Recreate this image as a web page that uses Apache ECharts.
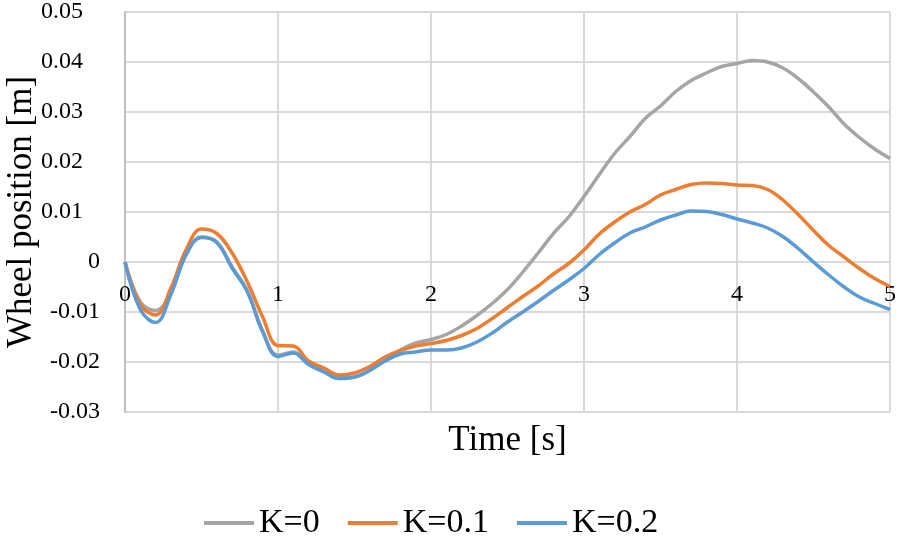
<!DOCTYPE html>
<html>
<head>
<meta charset="utf-8">
<script src="https://cdn.jsdelivr.net/npm/echarts@6/dist/echarts.min.js"></script>
<style>html,body{margin:0;padding:0;background:#fff}#c{width:898px;height:545px}</style>
</head>
<body>
<div id="c"></div>
<script>
const times = [0,0.1,0.2,0.3,0.4,0.5,0.6,0.7,0.8,0.9,1.0,1.1,1.2,1.3,1.4,1.5,1.6,1.7,1.8,1.9,2.0,2.1,2.2,2.3,2.4,2.5,2.6,2.7,2.8,2.9,3.0,3.1,3.2,3.3,3.4,3.5,3.6,3.7,3.8,3.9,4.0,4.1,4.2,4.3,4.4,4.5,4.6,4.7,4.8,4.9,5.0];
const k0 = [0,-0.0080,-0.0097,-0.0060,0.0015,0.0050,0.0040,-0.0010,-0.0058,-0.0138,-0.0186,-0.0180,-0.0203,-0.0218,-0.0231,-0.0230,-0.0216,-0.0196,-0.0176,-0.0162,-0.0155,-0.0145,-0.0128,-0.0107,-0.0083,-0.0055,-0.0020,0.0018,0.0057,0.0090,0.0131,0.0175,0.0217,0.0251,0.0287,0.0312,0.0341,0.0363,0.0378,0.0391,0.0397,0.0403,0.0400,0.0388,0.0367,0.0340,0.0310,0.0276,0.0249,0.0226,0.0207];
const k01 = [0,-0.0085,-0.0106,-0.0052,0.0025,0.0066,0.0057,0.0018,-0.0040,-0.0110,-0.0167,-0.0168,-0.0198,-0.0212,-0.0226,-0.0222,-0.0209,-0.0190,-0.0177,-0.0168,-0.0163,-0.0157,-0.0147,-0.0133,-0.0113,-0.0091,-0.0069,-0.0048,-0.0024,-0.0003,0.0024,0.0056,0.0080,0.0100,0.0115,0.0134,0.0145,0.0155,0.0158,0.0157,0.0154,0.0153,0.0145,0.0124,0.0095,0.0063,0.0033,0.0010,-0.0013,-0.0033,-0.0049];
const k02 = [0,-0.0095,-0.0121,-0.0065,0.0015,0.0049,0.0039,-0.0012,-0.0060,-0.0140,-0.0189,-0.0182,-0.0205,-0.0220,-0.0233,-0.0230,-0.0217,-0.0198,-0.0184,-0.0180,-0.0176,-0.0176,-0.0172,-0.0160,-0.0142,-0.0120,-0.0100,-0.0079,-0.0057,-0.0036,-0.0013,0.0015,0.0038,0.0058,0.0070,0.0084,0.0094,0.0102,0.0101,0.0095,0.0086,0.0078,0.0068,0.0051,0.0027,0.0000,-0.0026,-0.0050,-0.0070,-0.0083,-0.0095];
const seriesNames = ['K=0','K=0.1','K=0.2'];
const colors = ['#a5a5a5','#ed7d31','#5b9bd5'];
const font = '"Liberation Serif","Times New Roman",serif';

const pairs = arr => times.map((t,i)=>[t,arr[i]]);
const chart = echarts.init(document.getElementById('c'), null, {renderer:'canvas'});
chart.setOption({
  animation:false,
  color: colors,
  grid:{left:125,right:8,top:12,bottom:133,containLabel:false,outerBoundsMode:'none'},
  legend:{
    left:199, top:501, itemWidth:50, itemHeight:4, itemGap:28,
    icon:'rect',
    textStyle:{fontFamily:font,fontSize:34,color:'#000',padding:[0,0,0,0]},
    data:seriesNames
  },
  xAxis:{
    type:'value', min:0, max:5, interval:1, position:'bottom', offset:-150,
    name:'Time [s]', nameLocation:'middle', nameGap:161, nameMoveOverlap:false,
    nameTextStyle:{fontFamily:font,fontSize:35,color:'#000'},
    axisLine:{show:true,onZero:false,lineStyle:{color:'#d9d9d9',width:2}},
    axisTick:{show:false},
    axisLabel:{fontFamily:font,fontSize:24,color:'#000',margin:21},
    splitLine:{show:true,lineStyle:{color:'#d9d9d9',width:2}}
  },
  yAxis:{
    type:'value', min:-0.03, max:0.05, interval:0.01,
    name:'Wheel position [m]', nameLocation:'middle', nameGap:86, nameMoveOverlap:false,
    nameTextStyle:{fontFamily:font,fontSize:35,color:'#000'},
    axisLine:{show:true,onZero:false,lineStyle:{color:'#bfbfbf',width:2}},
    axisTick:{show:false},
    axisLabel:{fontFamily:font,fontSize:24,color:'#000',margin:25,
      formatter:v=>{
        const r=Math.round(v*100)/100;
        if(r===0) return '0';
        if(r>0) return '{p|'+r.toFixed(2)+'}';
        return r.toFixed(2);
      },
      rich:{p:{fontFamily:font,fontSize:24,color:'#000',padding:[0,17,0,0]}}
    },
    splitLine:{show:true,lineStyle:{color:'#d9d9d9',width:2}}
  },
  series:[
    {name:seriesNames[0],type:'line',data:pairs(k0),showSymbol:false,smooth:0.4,lineStyle:{width:3.5}},
    {name:seriesNames[1],type:'line',data:pairs(k01),showSymbol:false,smooth:0.4,lineStyle:{width:3.5}},
    {name:seriesNames[2],type:'line',data:pairs(k02),showSymbol:false,smooth:0.4,lineStyle:{width:3.5}}
  ]
});
</script>
</body>
</html>
